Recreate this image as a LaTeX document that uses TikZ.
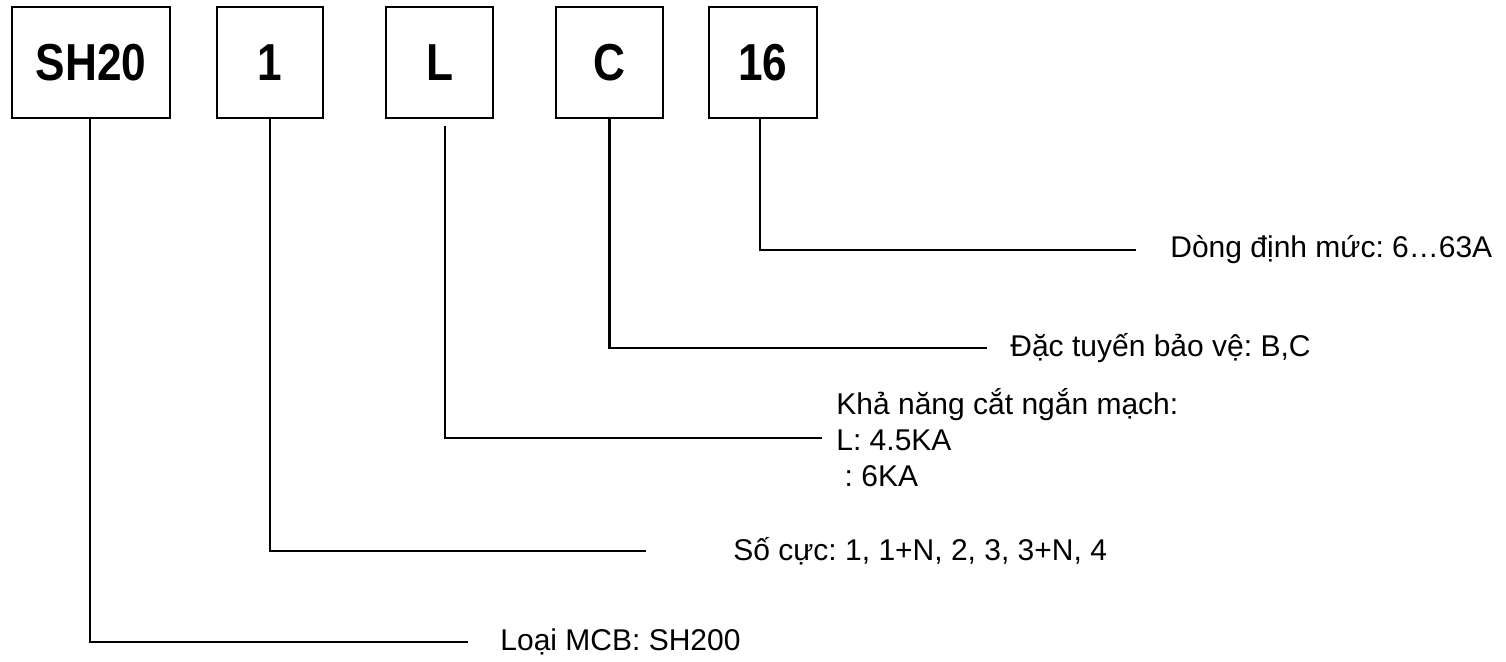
\documentclass[tikz,border=0pt]{standalone}
\usepackage{fontspec}
\setmainfont{Liberation Sans}
\newfontfamily\codefont[FakeStretch=0.85]{Liberation Sans Bold}
\usetikzlibrary{calc}
\frenchspacing

\begin{document}
\begin{tikzpicture}[x=0.5pt,y=-0.5pt,
	code/.style={draw,line width=0.9pt,minimum height=55.5pt,inner sep=0pt,
		font=\codefont\fontsize{26pt}{26pt}\selectfont},
	lead/.style={line width=1.4pt},
	info/.style={anchor=west,inner sep=0pt,align=left,
		font=\fontsize{15pt}{18pt}\selectfont}]
	\useasboundingbox (0,0) rectangle (1506,662);
	% the code boxes
	\node[code,minimum width=79pt] (sh) at (91,62.5) {SH20};
	\node[code,minimum width=53pt] (pole) at (270,62.5) {1};
	\node[code,minimum width=53.5pt] (brk) at (439.5,62.5) {L};
	\node[code,minimum width=53.5pt] (curve) at (609.5,62.5) {C};
	\node[code,minimum width=54pt] (amp) at (763,62.5) {16};
	% ends of the leads
	\coordinate (shend) at (468,642);
	\coordinate (poleend) at (646,551);
	\coordinate (brkend) at (822,438);
	\coordinate (curveend) at (987,348);
	\coordinate (ampend) at (1136,250);
	% the texts
	\node[info] (shtxt) at (500,642) {Loại MCB: SH200};
	\node[info] (poletxt) at (733,551) {Số cực: 1, 1+N, 2, 3, 3+N, 4};
	\node[info] (brktxt) at (836,438) {Khả năng cắt ngắn mạch:\\L: 4.5KA\\\ : 6KA};
	\node[info] (curvetxt) at (1010,348) {Đặc tuyến bảo vệ: B,C};
	\node[info] (amptxt) at (1170,250) {Dòng định mức: 6…63A};
	% the leads
	\draw[lead] ([xshift=-0.5pt]sh.south) |- (shend);
	\draw[lead] (pole.south) |- (poleend);
	\draw[lead] ([xshift=2.75pt,yshift=-3.5pt]brk.south) |- (brkend);
	\draw[lead] (curve.south) |- (curveend);
	\draw[lead] ([xshift=-1.5pt]amp.south) |- (ampend);
\end{tikzpicture}
\end{document}
